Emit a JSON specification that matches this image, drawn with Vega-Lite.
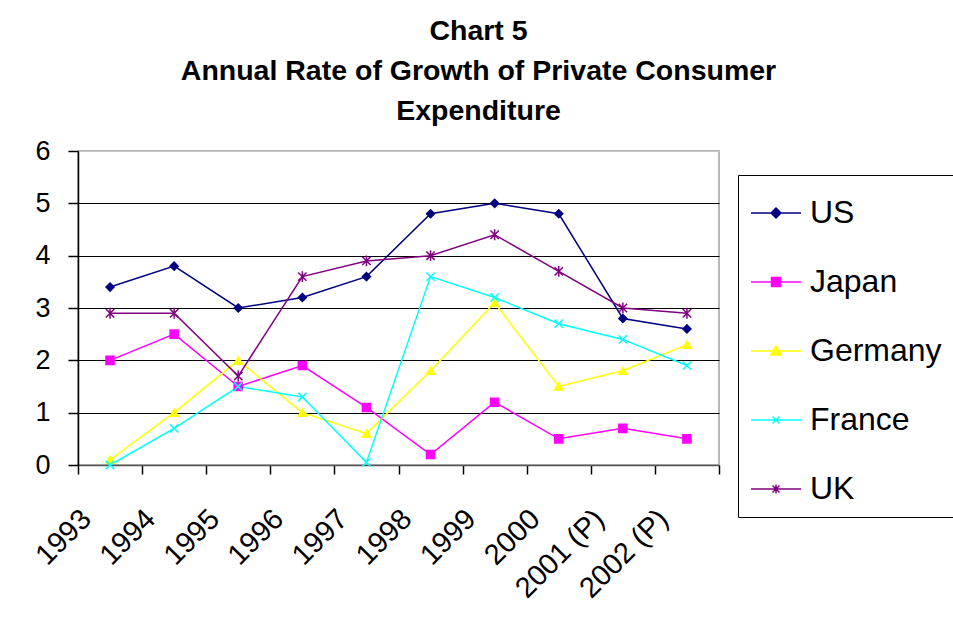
{
  "$schema": "https://vega.github.io/schema/vega-lite/v6.json",
  "width": 641,
  "height": 314,
  "autosize": "none",
  "padding": {"left": 78, "top": 151, "right": 234, "bottom": 155},
  "background": "white",
  "title": {
    "text": ["Chart 5", "Annual Rate of Growth of Private Consumer", "Expenditure"],
    "font": "Liberation Sans",
    "fontSize": 28.5,
    "fontWeight": "bold",
    "color": "black",
    "lineHeight": 40,
    "anchor": "middle",
    "frame": "group",
    "baseline": "bottom",
    "dx": 80,
    "offset": -17
  },
  "data": {
    "values": [
      {"year": "1993", "country": "US", "value": 3.4},
      {"year": "1994", "country": "US", "value": 3.8},
      {"year": "1995", "country": "US", "value": 3.0},
      {"year": "1996", "country": "US", "value": 3.2},
      {"year": "1997", "country": "US", "value": 3.6},
      {"year": "1998", "country": "US", "value": 4.8},
      {"year": "1999", "country": "US", "value": 5.0},
      {"year": "2000", "country": "US", "value": 4.8},
      {"year": "2001 (P)", "country": "US", "value": 2.8},
      {"year": "2002 (P)", "country": "US", "value": 2.6},
      {"year": "1993", "country": "Japan", "value": 2.0},
      {"year": "1994", "country": "Japan", "value": 2.5},
      {"year": "1995", "country": "Japan", "value": 1.5},
      {"year": "1996", "country": "Japan", "value": 1.9},
      {"year": "1997", "country": "Japan", "value": 1.1},
      {"year": "1998", "country": "Japan", "value": 0.2},
      {"year": "1999", "country": "Japan", "value": 1.2},
      {"year": "2000", "country": "Japan", "value": 0.5},
      {"year": "2001 (P)", "country": "Japan", "value": 0.7},
      {"year": "2002 (P)", "country": "Japan", "value": 0.5},
      {"year": "1993", "country": "Germany", "value": 0.1},
      {"year": "1994", "country": "Germany", "value": 1.0},
      {"year": "1995", "country": "Germany", "value": 2.0},
      {"year": "1996", "country": "Germany", "value": 1.0},
      {"year": "1997", "country": "Germany", "value": 0.6},
      {"year": "1998", "country": "Germany", "value": 1.8},
      {"year": "1999", "country": "Germany", "value": 3.1},
      {"year": "2000", "country": "Germany", "value": 1.5},
      {"year": "2001 (P)", "country": "Germany", "value": 1.8},
      {"year": "2002 (P)", "country": "Germany", "value": 2.3},
      {"year": "1993", "country": "France", "value": 0.0},
      {"year": "1994", "country": "France", "value": 0.7},
      {"year": "1995", "country": "France", "value": 1.5},
      {"year": "1996", "country": "France", "value": 1.3},
      {"year": "1997", "country": "France", "value": 0.05},
      {"year": "1998", "country": "France", "value": 3.6},
      {"year": "1999", "country": "France", "value": 3.2},
      {"year": "2000", "country": "France", "value": 2.7},
      {"year": "2001 (P)", "country": "France", "value": 2.4},
      {"year": "2002 (P)", "country": "France", "value": 1.9},
      {"year": "1993", "country": "UK", "value": 2.9},
      {"year": "1994", "country": "UK", "value": 2.9},
      {"year": "1995", "country": "UK", "value": 1.7},
      {"year": "1996", "country": "UK", "value": 3.6},
      {"year": "1997", "country": "UK", "value": 3.9},
      {"year": "1998", "country": "UK", "value": 4.0},
      {"year": "1999", "country": "UK", "value": 4.4},
      {"year": "2000", "country": "UK", "value": 3.7},
      {"year": "2001 (P)", "country": "UK", "value": 3.0},
      {"year": "2002 (P)", "country": "UK", "value": 2.9}
    ]
  },
  "encoding": {
    "x": {
      "field": "year",
      "type": "ordinal",
      "sort": null,
      "title": null,
      "scale": {"type": "band", "paddingInner": 0, "paddingOuter": 0},
      "axis": {
        "labelAngle": -45,
        "labelAlign": "right",
        "labelBaseline": "middle",
        "labelFont": "Liberation Sans",
        "labelFontSize": 29,
        "labelColor": "black",
        "labelPadding": 40,
        "labelOffset": -24,
        "labelOverlap": false,
        "labelLimit": 300,
        "tickBand": "extent",
        "tickSize": 9,
        "tickColor": "black",
        "tickWidth": 1.5,
        "domainColor": "#555555",
        "domainWidth": 1.5,
        "grid": false
      }
    },
    "y": {
      "field": "value",
      "type": "quantitative",
      "title": null,
      "scale": {"domain": [0, 6], "nice": false},
      "axis": {
        "values": [0, 1, 2, 3, 4, 5, 6],
        "labelFont": "Liberation Sans",
        "labelFontSize": 27,
        "labelColor": "black",
        "labelPadding": 18,
        "tickSize": 10,
        "tickColor": "black",
        "tickWidth": 1.5,
        "domainColor": "black",
        "domainWidth": 1.5,
        "grid": true,
        "gridColor": {"condition": {"test": "datum.value == 6", "value": "#c8c8c8"}, "value": "black"},
        "gridWidth": 1.2
      }
    },
    "color": {
      "field": "country",
      "type": "nominal",
      "scale": {
        "domain": ["US", "Japan", "Germany", "France", "UK"],
        "range": ["#000080", "#FF00FF", "#FFFF00", "#00FFFF", "#800080"]
      },
      "legend": {
        "title": null,
        "orient": "none",
        "legendX": 660,
        "legendY": 24,
        "padding": 12,
        "strokeColor": "black",
        "fillColor": "white",
        "symbolType": "circle",
        "symbolSize": 2500,
        "symbolStrokeWidth": 1.5,
        "labelFont": "Liberation Sans",
        "labelFontSize": 32,
        "labelColor": "black",
        "labelOffset": 8,
        "labelLimit": 300,
        "rowPadding": 27,
        "encode": {
          "symbols": {
            "update": {
              "shape": {"signal": "datum.value == 'US' ? 'M-1,0H1M0,-0.2L0.2,0L0,0.2L-0.2,0Z' : datum.value == 'Japan' ? 'M-1,0H1M-0.18,-0.18H0.18V0.18H-0.18Z' : datum.value == 'Germany' ? 'M-1,0H1M0,-0.2L0.21,0.16H-0.21Z' : datum.value == 'France' ? 'M-1,0H1M-0.14,-0.14L0.14,0.14M-0.14,0.14L0.14,-0.14' : 'M-1,0H1M-0.14,-0.14L0.14,0.14M-0.14,0.14L0.14,-0.14M0,-0.18V0.18'"},
              "fill": {"signal": "scale('color', datum.value)"},
              "stroke": {"signal": "scale('color', datum.value)"},
              "strokeWidth": {"value": 1.5},
              "size": {"value": 2500},
              "opacity": {"value": 1}
            }
          }
        }
      }
    }
  },
  "layer": [
    {"mark": {"type": "line", "strokeWidth": 1.5}},
    {
      "mark": {"type": "point", "filled": true, "opacity": 1, "strokeWidth": 1.5},
      "encoding": {
        "shape": {
          "field": "country",
          "type": "nominal",
          "scale": {
            "domain": ["UK", "France", "Germany", "Japan", "US"],
            "range": ["M-1,-1L1,1M-1,1L1,-1M0,-1.3V1.3", "M-1,-1L1,1M-1,1L1,-1", "triangle-up", "square", "diamond"]
          },
          "legend": null
        },
        "stroke": {
          "field": "country",
          "type": "nominal",
          "scale": {
            "domain": ["UK", "France", "Germany", "Japan", "US"],
            "range": ["#800080", "#00FFFF", "#FFFF00", "#FF00FF", "#000080"]
          },
          "legend": null
        },
        "size": {
          "field": "country",
          "type": "nominal",
          "scale": {
            "domain": ["UK", "France", "Germany", "Japan", "US"],
            "range": [70, 64, 130, 110, 160]
          },
          "legend": null
        }
      }
    }
  ],
  "config": {
    "view": {"stroke": "#a0a0a0", "strokeWidth": 1.5}
  }
}
